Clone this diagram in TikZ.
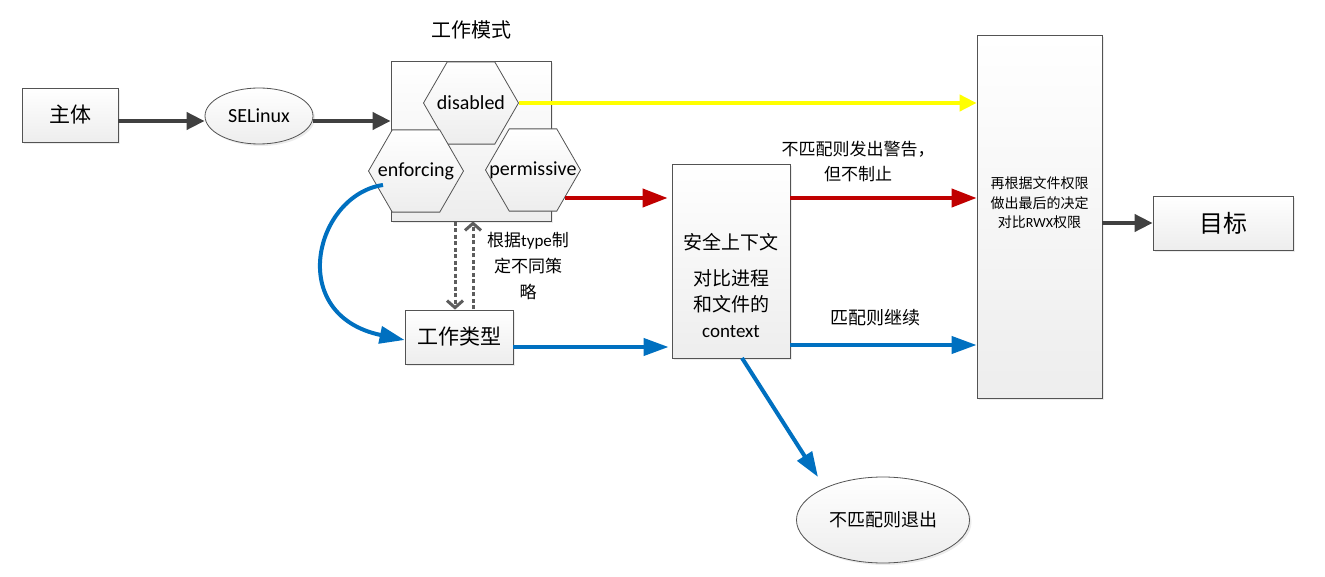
\documentclass[tikz,border=0pt]{standalone}
\usepackage{fontspec}
\setmainfont{Carlito}
\newfontfamily\cjk{Noto Sans CJK SC}
\usetikzlibrary{arrows.meta,shapes.geometric,shadows,calc}
\definecolor{dk}{HTML}{404040}
\definecolor{myred}{HTML}{C00000}
\definecolor{myblue}{HTML}{0070C0}
\definecolor{myyellow}{HTML}{FFFF00}
\tikzset{
  gbox/.style={draw=dk!90, line width=0.8pt, top color=white, bottom color=black!7,
    drop shadow={shadow xshift=2pt, shadow yshift=-2pt, fill=black!15}},
  hexa/.style={draw=dk!90, line width=0.8pt, top color=white, bottom color=black!7,
    regular polygon, regular polygon sides=6, minimum size=95pt, inner sep=0pt,
    label={[font=\fontsize{20}{22}\selectfont, inner sep=0pt]center:#1}},
  darr/.style={draw=dk, line width=4pt, -{Triangle[length=18pt,width=17pt]}},
  yarr/.style={draw=myyellow, line width=4pt, -{Triangle[length=17pt,width=16pt]}},
  rarr/.style={draw=myred, line width=4pt, -{Triangle[length=25pt,width=18pt]}},
  barr/.style={draw=myblue, line width=4pt, -{Triangle[length=25pt,width=17pt]}},
  dotarr/.style={draw=dk!85, line width=3pt, dash pattern=on 4pt off 2.5pt, -{Straight Barb[length=7pt,width=16pt,line width=3pt]}},
  lbl/.style={inner sep=0pt, align=center},
}
\begin{document}
\begin{tikzpicture}[x=1pt,y=1pt]
\useasboundingbox (0,0) rectangle (1325,-577);
% nodes
\node[gbox, minimum width=96pt, minimum height=54pt, font=\cjk\fontsize{21}{22}\selectfont] (zhuti) at (70,-115) {主体};
\node[gbox, ellipse, minimum width=108pt, minimum height=56pt, font=\fontsize{20}{22}\selectfont] (selinux) at (259,-116) {SELinux};
\node[gbox, minimum width=160pt, minimum height=160pt] (mode) at (471,-141) {};
\node[lbl, font=\cjk\fontsize{20}{22}\selectfont] (modelbl) at (471,-30) {工作模式};
\node[hexa=disabled] (disabled) at (471,-103) {};
\node[hexa=enforcing] (enforcing) at (416,-171) {};
\node[hexa=permissive] (permissive) at (533,-170) {};
\node[gbox, minimum width=108pt, minimum height=54pt, font=\cjk\fontsize{21}{22}\selectfont] (wtype) at (459,-337) {工作类型};
\node[lbl, font=\fontsize{17}{26}\selectfont] (typelbl) at (528,-266) {{\cjk 根据}type{\cjk 制}\\{\cjk 定不同策}\\{\cjk 略}};
\node[gbox, minimum width=118pt, minimum height=194pt] (ctx) at (731,-261) {};
\node[lbl, font=\fontsize{19}{26}\selectfont] (ctxtxt) at (731,-285) {{\cjk 安全上下文}\\[10pt]{\cjk 对比进程}\\{\cjk 和文件的}\\context};
\node[gbox, minimum width=125pt, minimum height=363pt] (final) at (1039.5,-216.5) {};
\node[lbl, font=\fontsize{14}{19.5}\selectfont] (finaltxt) at (1039.5,-203) {{\cjk 再根据文件权限}\\{\cjk 做出最后的决定}\\{\cjk 对比}RWX{\cjk 权限}};
\node[gbox, minimum width=140pt, minimum height=54pt, font=\cjk\fontsize{24}{26}\selectfont] (target) at (1223,-223) {目标};
\node[gbox, ellipse, minimum width=173pt, minimum height=86pt, font=\cjk\fontsize{18}{20}\selectfont] (exit) at (883,-520) {不匹配则退出};
\node[lbl, font=\cjk\fontsize{17}{25}\selectfont] (warnlbl) at (858,-161) {不匹配则发出警告，\\但不制止};
\node[lbl, font=\cjk\fontsize{18}{20}\selectfont] (oklbl) at (875,-318) {匹配则继续};
% coordinates
\coordinate (rstart) at (565,-198);
\coordinate (bstart) at (383,-185);
\coordinate (exitstart) at (742,-358);
\coordinate (exitend) at (818,-477);
% connectors
\draw[darr] (zhuti.east |- 0,-121) -- (selinux.west |- 0,-121);
\draw[darr] (selinux.east |- 0,-121) -- (mode.west |- 0,-121);
\draw[yarr] (disabled.east) -- (final.west |- disabled.east);
\draw[rarr, shorten >=4pt] (rstart) -- (ctx.west |- rstart);
\draw[rarr] (ctx.east |- rstart) -- (final.west |- rstart);
\draw[barr, shorten >=3pt] (wtype.east |- 0,-347) -- (ctx.west |- 0,-347);
\draw[barr] (ctx.east |- 0,-345) -- (final.west |- 0,-345);
\draw[barr] (exitstart) -- (exitend);
\draw[barr] (bstart) .. controls (315,-195) and (285,-315) .. (wtype.west |- 0,-340);
\draw[dotarr] (wtype.north -| 455,0) ++(0,88) -- (wtype.north -| 455,0);
\draw[dotarr] (mode.south -| 473,0) ++(0,-88) -- (mode.south -| 473,0);
\draw[darr] (final.east |- target.west) -- (target.west);
\end{tikzpicture}
\end{document}
